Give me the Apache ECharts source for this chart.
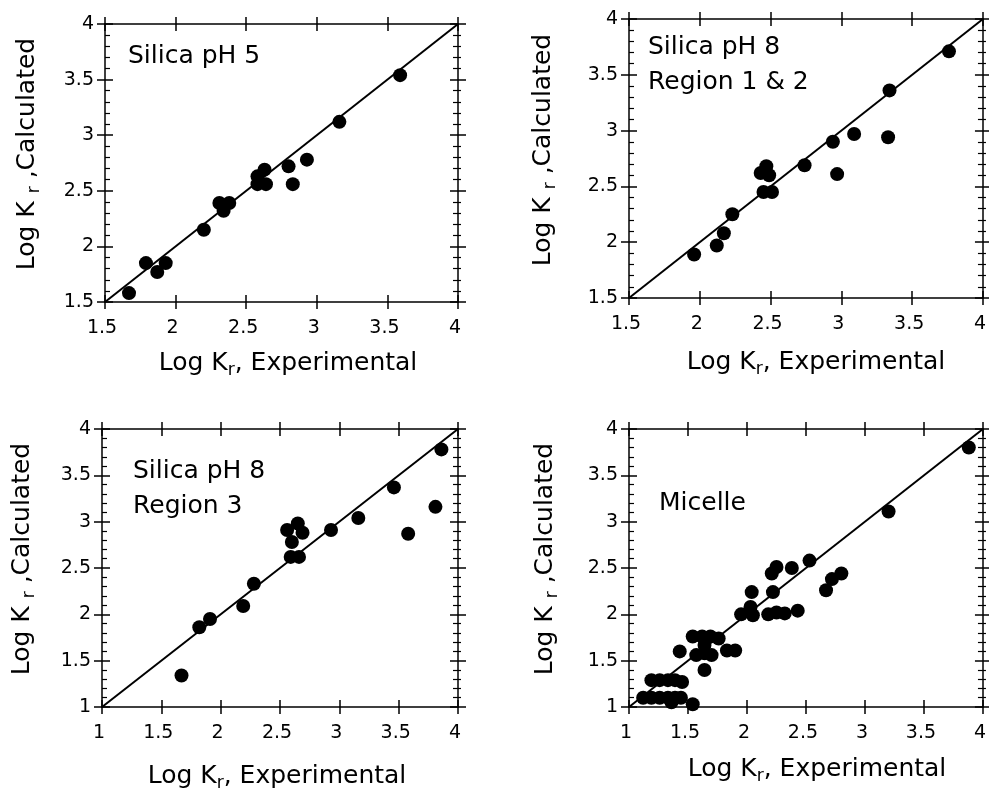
<!DOCTYPE html>
<html><head><meta charset="utf-8">
<script src="https://cdn.jsdelivr.net/npm/echarts@6/dist/echarts.min.js"></script>
<style>html,body{margin:0;padding:0;background:#fff}#c{width:989px;height:788px}</style>
</head><body><div id="c"></div>
<script>
// ---- Data (Log Kr experimental, Log Kr calculated) ----
const silicaPH5 = [
  [1.67,1.58],[1.79,1.85],[1.87,1.77],[1.93,1.85],[2.20,2.15],[2.31,2.39],[2.34,2.32],[2.38,2.39],
  [2.58,2.63],[2.63,2.69],[2.58,2.56],[2.64,2.56],[2.80,2.72],[2.83,2.56],[2.93,2.78],[3.16,3.12],[3.59,3.54]
];
const silicaPH8R12 = [
  [1.96,1.89],[2.12,1.97],[2.17,2.08],[2.23,2.25],[2.43,2.62],[2.47,2.68],[2.49,2.60],[2.45,2.45],
  [2.51,2.45],[2.74,2.69],[2.94,2.90],[2.97,2.61],[3.09,2.97],[3.33,2.94],[3.34,3.36],[3.76,3.71]
];
const silicaPH8R3 = [
  [1.67,1.34],[1.82,1.86],[1.91,1.95],[2.19,2.09],[2.28,2.33],[2.56,2.91],[2.65,2.98],[2.69,2.88],
  [2.60,2.78],[2.59,2.62],[2.66,2.62],[2.93,2.91],[3.16,3.04],[3.46,3.37],[3.58,2.87],[3.81,3.16],[3.86,3.78]
];
const micelle = [
  [1.12,1.10],[1.19,1.10],[1.26,1.10],[1.33,1.10],[1.39,1.10],[1.44,1.10],[1.36,1.05],[1.54,1.03],
  [1.19,1.29],[1.26,1.29],[1.33,1.29],[1.39,1.29],[1.45,1.27],
  [1.43,1.60],[1.54,1.76],[1.62,1.76],[1.69,1.76],[1.76,1.74],[1.57,1.56],[1.64,1.58],[1.70,1.56],
  [1.64,1.67],[1.64,1.40],[1.83,1.61],[1.90,1.61],
  [1.95,2.00],[2.03,2.08],[2.05,1.99],[2.04,2.24],[2.22,2.24],[2.18,2.00],[2.25,2.02],[2.32,2.01],[2.43,2.04],
  [2.21,2.44],[2.25,2.51],[2.38,2.50],[2.53,2.58],
  [2.67,2.26],[2.72,2.38],[2.80,2.44],
  [3.20,3.11],[3.88,3.80]
];
const panelRanges = [[1.5,4],[1.5,4],[1,4],[1,4]];
const tickStep = 0.5;
const panelLabels = [["Silica pH 5"],["Silica pH 8","Region 1 & 2"],["Silica pH 8","Region 3"],["Micelle"]];

// ---- Layout ----
const grids = [
  {left:105, top:24, width:353, height:278},
  {left:629, top:19, width:354, height:279},
  {left:102, top:429, width:356, height:278},
  {left:629, top:429, width:354, height:278}
];
const FONT = 'DejaVu Sans';
const black = '#000';
const xAxes = [], yAxes = [], series = [];
const datasets = [silicaPH5, silicaPH8R12, silicaPH8R3, micelle];

grids.forEach((g, gi) => {
  const [mn, mx] = panelRanges[gi];
  const base = {type:'value', gridIndex:gi, min:mn, max:mx, interval:tickStep,
    splitLine:{show:false}, axisLabel:{show:false},
    axisLine:{show:false, onZero:false, lineStyle:{color:black, width:1.5}},
    axisTick:{show:true, length:7, lineStyle:{color:black, width:1.5}}};
  const mk = (o) => Object.assign({}, base, o);
  // x axes
  xAxes.push(mk({position:'bottom',
    axisLine:{show:true, onZero:false, lineStyle:{color:black, width:1.5}},
    axisTick:{show:true, inside:false, length:7, lineStyle:{color:black, width:1.5}},
    axisLabel:{show:true, margin:17, color:black, fontSize:19, fontFamily:FONT, showMinLabel:true, showMaxLabel:true, padding:[0,6,0,0]}}));
  const xBottomIdx = xAxes.length - 1;
  xAxes.push(mk({position:'bottom', axisTick:{show:true, inside:true, length:7, lineStyle:{color:black, width:1.5}}}));
  xAxes.push(mk({position:'top',
    axisLine:{show:true, onZero:false, lineStyle:{color:black, width:1.5}},
    axisTick:{show:true, inside:false, length:7, lineStyle:{color:black, width:1.5}}}));
  xAxes.push(mk({position:'top', axisTick:{show:true, inside:true, length:7, lineStyle:{color:black, width:1.5}}}));
  // y axes
  yAxes.push(mk({position:'left',
    axisLine:{show:true, onZero:false, lineStyle:{color:black, width:1.5}},
    axisTick:{show:true, inside:false, length:8, lineStyle:{color:black, width:1.5}},
    axisLabel:{show:true, margin:11, color:black, fontSize:19, fontFamily:FONT, showMinLabel:true, showMaxLabel:true}}));
  const yLeftIdx = yAxes.length - 1;
  yAxes.push(mk({position:'left',
    axisTick:{show:true, inside:true, length:8, lineStyle:{color:black, width:1.5}},
    minorTick:{show:true, splitNumber:5, length:5, lineStyle:{color:black, width:1.2}}}));
  yAxes.push(mk({position:'right',
    axisLine:{show:true, onZero:false, lineStyle:{color:black, width:1.5}},
    axisTick:{show:true, inside:false, length:8, lineStyle:{color:black, width:1.5}},
    minorTick:{show:true, splitNumber:5, length:3, lineStyle:{color:black, width:1.2}}}));
  yAxes.push(mk({position:'right',
    axisTick:{show:true, inside:true, length:8, lineStyle:{color:black, width:1.5}},
    minorTick:{show:true, splitNumber:5, length:5, lineStyle:{color:black, width:1.2}}}));

  series.push({type:'line', xAxisIndex:xBottomIdx, yAxisIndex:yLeftIdx,
    data:[[mn,mn],[mx,mx]], showSymbol:false, symbol:'none', silent:true,
    lineStyle:{color:black, width:2}, z:2});
  series.push({type:'scatter', xAxisIndex:xBottomIdx, yAxisIndex:yLeftIdx,
    data:datasets[gi], symbol:'circle', symbolSize:14,
    itemStyle:{color:black, opacity:1}, silent:true, z:3});
});

// ---- Text elements ----
const rich = {
  a:{fontFamily:FONT, fontSize:25, color:black, lineHeight:32, verticalAlign:'middle'},
  s:{fontFamily:FONT, fontSize:17, color:black, lineHeight:17, verticalAlign:'bottom'}
};
const xTitlePos = [[288,363],[816,362],[277,776],[817,769]];
const yTitlePos = [[27,154],[543,150],[22,559],[545,559]];
const annoPos = [[128,56],[648,47],[133,471],[659,503]];
const graphic = [];
xTitlePos.forEach(([x,y]) => graphic.push({type:'text', x, y, silent:true,
  style:{text:'{a|Log K}{s|r}{a|, Experimental}', rich, align:'center', verticalAlign:'middle'}}));
yTitlePos.forEach(([x,y]) => graphic.push({type:'text', x, y, rotation:Math.PI/2, silent:true,
  style:{text:'{a|Log K }{s|r}{a| ,Calculated}', rich, align:'center', verticalAlign:'middle'}}));
annoPos.forEach(([x,y], i) => panelLabels[i].forEach((t, k) => graphic.push({type:'text', x, y:y + k*35, silent:true,
  style:{text:t, fontFamily:FONT, fontSize:25, fill:black, align:'left', verticalAlign:'middle'}})));

const chart = echarts.init(document.getElementById('c'), null, {renderer:'canvas'});
chart.setOption({
  animation:false,
  backgroundColor:'#fff',
  grid: grids.map(g => Object.assign({containLabel:false}, g)),
  xAxis:xAxes, yAxis:yAxes, series, graphic
});
</script>
</body></html>
